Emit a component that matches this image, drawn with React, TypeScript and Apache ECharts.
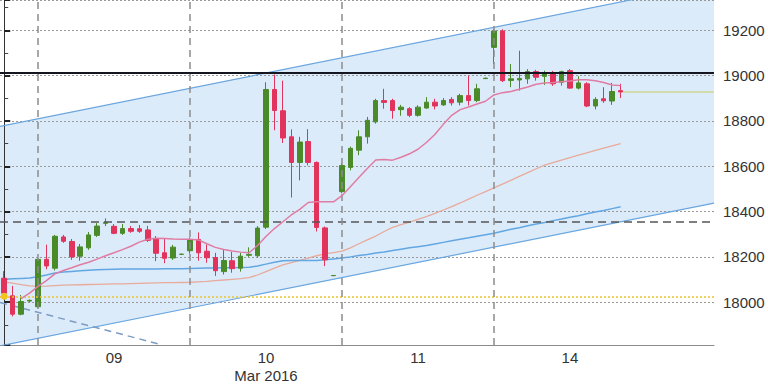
import React, { useEffect, useRef } from "react";
import * as echarts from "echarts";

// ---- x positions (candle index) ----
const dayStarts = [4, 22, 40, 58];
const dayLabelPos = [13, 31, 49, 67];
const dayLabels = ["09", "10\nMar 2016", "11", "14"];

// ---- candles ----
const candleOpen = [18106, 18028, 17947, 18005, 17980, 18189, 18150, 18288, 18268, 18203, 18240, 18295, 18348, 18335, 18304, 18325, 18324, 18319, 18279, 18218, 18195, 18211, 18227, 18277, 18225, 18197, 18135, 18183, 18150, 18207, 18205, 18331, 18939, 18845, 18730, 18617, 18709, 18617, 18328, 18117, 18488, 18595, 18671, 18730, 18796, 18890, 18890, 18850, 18854, 18825, 18857, 18883, 18871, 18895, 18883, 18912, 18890, 18987, 19125, 19197, 18979, 18981, 18986, 19018, 18997, 19012, 18971, 19022, 18945, 18964, 18866, 18898, 18888, 18934];
const candleClose = [18040, 17947, 18003, 18008, 18189, 18160, 18291, 18269, 18200, 18244, 18297, 18336, 18352, 18304, 18325, 18313, 18313, 18273, 18216, 18194, 18243, 18212, 18275, 18218, 18196, 18139, 18184, 18148, 18203, 18211, 18327, 18939, 18846, 18725, 18617, 18707, 18617, 18330, 18187, 18118, 18603, 18679, 18730, 18803, 18890, 18882, 18846, 18861, 18825, 18861, 18883, 18866, 18890, 18880, 18912, 18890, 18942, 18989, 19197, 18978, 18986, 18988, 19018, 18993, 19007, 18964, 19018, 18945, 18968, 18866, 18895, 18889, 18930, 18928];
const candleLow = [18029, 17937, 17942, 18000, 17975, 18145, 18140, 18262, 18187, 18183, 18231, 18288, 18336, 18300, 18297, 18306, 18306, 18266, 18181, 18172, 18187, 18208, 18214, 18183, 18174, 18116, 18122, 18130, 18135, 18200, 18197, 18323, 18759, 18703, 18462, 18538, 18604, 18312, 18159, 18115, 18481, 18582, 18649, 18700, 18788, 18854, 18810, 18823, 18817, 18819, 18854, 18851, 18867, 18868, 18869, 18868, 18883, 18985, 19051, 18972, 18949, 18934, 18964, 18978, 18959, 18955, 18956, 18942, 18939, 18861, 18851, 18880, 18871, 18901];
const candleHigh = [18137, 18072, 18032, 18012, 18192, 18254, 18297, 18297, 18279, 18257, 18310, 18349, 18370, 18345, 18345, 18336, 18341, 18337, 18292, 18283, 18253, 18214, 18286, 18308, 18255, 18218, 18231, 18222, 18218, 18242, 18336, 18971, 19005, 18978, 18763, 18730, 18764, 18621, 18334, 18120, 18613, 18687, 18759, 18818, 18898, 18942, 18898, 18871, 18861, 18869, 18905, 18898, 18901, 18905, 18920, 19000, 18964, 18991, 19205, 19205, 19051, 19110, 19029, 19026, 19022, 19021, 19022, 19029, 18997, 18971, 18905, 18949, 18968, 18964];

// ---- moving averages ----
const maPink = [null, null, 18016, 18040, 18070, 18095, 18125, 18140, 18152, 18165, 18176, 18190, 18205, 18218, 18232, 18247, 18265, 18278, 18282, 18281, 18279, 18278, 18278, 18275, 18258, 18242, 18233, 18226, 18221, 18218, 18250, 18290, 18325, 18355, 18385, 18410, 18440, 18443, 18443, 18443, 18470, 18510, 18550, 18590, 18628, 18630, 18627, 18640, 18655, 18675, 18705, 18740, 18785, 18825, 18850, 18862, 18875, 18887, 18915, 18925, 18930, 18940, 18950, 18962, 18968, 18970, 18973, 18976, 18982, 18982, 18978, 18970, 18959, 18956];
const maBlue = [18101, 18103, 18105, 18107, 18112, 18120, 18129, 18133, 18136, 18139, 18141, 18143, 18144, 18145, 18146, 18146, 18147, 18147, 18147, 18148, 18148, 18148, 18149, 18150, 18151, 18151, 18152, 18152, 18153, 18154, 18160, 18168, 18176, 18183, 18184, 18184, 18184, 18184, 18187, 18191, 18195, 18200, 18206, 18211, 18217, 18222, 18228, 18234, 18240, 18245, 18250, 18257, 18264, 18271, 18278, 18284, 18291, 18298, 18304, 18313, 18322, 18329, 18337, 18345, 18352, 18360, 18367, 18375, 18382, 18390, 18398, 18405, 18413, 18421];
const maSalmon = [18090, 18084, 18078, 18072, 18070, 18071, 18073, 18075, 18076, 18077, 18078, 18079, 18080, 18081, 18081, 18082, 18083, 18084, 18085, 18086, 18086, 18087, 18088, 18090, 18092, 18095, 18098, 18101, 18104, 18108, 18120, 18135, 18150, 18165, 18175, 18185, 18195, 18205, 18213, 18219, 18225, 18240, 18258, 18275, 18292, 18312, 18330, 18342, 18353, 18366, 18378, 18392, 18407, 18422, 18438, 18455, 18472, 18488, 18505, 18521, 18538, 18555, 18572, 18589, 18605, 18616, 18627, 18638, 18649, 18659, 18670, 18680, 18690, 18700];

// ---- channel & trend lines ----
const xMin = -0.5;
const xMax = 84.06;
const channelX = [xMin, xMax];
const channelUpper = [18776, 19408];
const channelLower = [17807, 18437];
const trendDownX = [xMin, 18.45];
const trendDownY = [17999, 17814];

// ---- horizontal levels ----
const levelBlack = 19013;
const levelDashed = 18353;
const levelYellow = 18026;
const lastPrice = 18930;
const lastIndex = 73.3;

const yMin = 17811;
const yMax = 19334;

const FONT = "'Liberation Sans', Arial, sans-serif";

export default function App() {
  const ref = useRef<HTMLDivElement>(null);
  useEffect(() => {
    if (!ref.current) return;
    const chart = echarts.init(ref.current, undefined, { renderer: "svg" });
    const pairs = (arr: (number | null)[]) =>
      arr.map((v, i) => (v == null ? null : [i, v])).filter((p) => p !== null);

    const option: any = {
      animation: false,
      backgroundColor: "#ffffff",
      grid: { left: 0, right: 54, top: 0, bottom: 36 },
      xAxis: {
        type: "value",
        min: xMin,
        max: xMax,
        splitLine: { show: false },
        axisTick: { show: false },
        axisLine: { show: true, lineStyle: { color: "#8a8a8a", width: 1 } },
        axisLabel: {
          customValues: dayLabelPos,
          formatter: (v: number) => {
            const k = dayLabelPos.indexOf(Math.round(v));
            return k >= 0 ? dayLabels[k] : "";
          },
          color: "#333",
          fontFamily: FONT,
          fontSize: 15,
          lineHeight: 18,
          margin: 3,
        },
      },
      yAxis: {
        type: "value",
        position: "right",
        min: yMin,
        max: yMax,
        splitNumber: 8,
        scale: true,
        axisLine: { show: true, lineStyle: { color: "#333", width: 1 } },
        axisTick: { show: true, length: 6, lineStyle: { color: "#222", width: 2 } },
        minorTick: { show: true, splitNumber: 2, length: 4, lineStyle: { color: "#444", width: 1 } },
        splitLine: { show: true, lineStyle: { color: "#9a9a9a", width: 1, type: [2, 2] } },
        axisLabel: {
          showMinLabel: false,
          showMaxLabel: false,
          formatter: (v: number) => String(Math.round(v)),
          color: "#333",
          fontFamily: FONT,
          fontSize: 15,
          margin: 9,
        },
      },
      series: [
        {
          type: "custom",
          z: -1,
          silent: true,
          data: [[channelX[0], channelLower[0]]],
          renderItem: (params: any, api: any) => {
            const pts: number[][] = [];
            for (let k = 0; k < channelX.length; k++) pts.push(api.coord([channelX[k], channelUpper[k]]));
            for (let k = channelX.length - 1; k >= 0; k--) pts.push(api.coord([channelX[k], channelLower[k]]));
            return { type: "polygon", shape: { points: pts }, style: { fill: "#dcebfa" } };
          },
        },
        {
          type: "line",
          silent: true,
          showSymbol: false,
          z: 3,
          data: channelX.map((x, k) => [x, channelUpper[k]]),
          lineStyle: { color: "#6aa6de", width: 1.2 },
        },
        {
          type: "line",
          silent: true,
          showSymbol: false,
          z: 3,
          data: channelX.map((x, k) => [x, channelLower[k]]),
          lineStyle: { color: "#6aa6de", width: 1.2 },
        },
        {
          type: "line",
          silent: true,
          showSymbol: false,
          z: 3,
          data: trendDownX.map((x, k) => [x, trendDownY[k]]),
          lineStyle: { color: "#7d9cc4", width: 1.5, type: [7, 5] },
        },
        {
          type: "line",
          silent: true,
          showSymbol: false,
          z: 3,
          data: pairs(maSalmon),
          lineStyle: { color: "#e7aa9b", width: 1.3 },
        },
        {
          type: "line",
          silent: true,
          showSymbol: false,
          z: 3,
          data: pairs(maBlue),
          lineStyle: { color: "#62a7e2", width: 1.5 },
        },
        {
          type: "candlestick",
          silent: true,
          z: 4,
          barWidth: 5,
          data: candleOpen.map((o, i) => [i, o, candleClose[i], candleLow[i], candleHigh[i]]),
          itemStyle: {
            color: "#4a8a28",
            color0: "#e2335c",
            borderColor: "#4a8a28",
            borderColor0: "#e2335c",
            borderWidth: 1,
          },
        },
        {
          type: "line",
          silent: true,
          showSymbol: false,
          z: 5,
          data: pairs(maPink),
          lineStyle: { color: "#e07ca3", width: 1.5 },
        },
        {
          type: "line",
          silent: true,
          showSymbol: false,
          z: 6,
          data: [],
          markPoint: {
            silent: true,
            symbol: "circle",
            symbolSize: 7,
            itemStyle: { color: "#f3c41a" },
            label: { show: false },
            data: [{ coord: [0, levelYellow] }],
          },
          markLine: {
            silent: true,
            symbol: "none",
            label: { show: false },
            data: [
              { yAxis: levelYellow, lineStyle: { color: "#ecc52a", width: 1.5, type: [2, 2] } },
              { yAxis: levelDashed, lineStyle: { color: "#555", width: 1.5, type: [8, 5] } },
              ...dayStarts.map((d) => ({ xAxis: d, lineStyle: { color: "#8c8c8c", width: 1.5, type: [7, 5] } })),
              { yAxis: levelBlack, lineStyle: { color: "#15151f", width: 2, type: "solid" } },
              [
                { coord: [lastIndex, lastPrice], lineStyle: { color: "#cfd68e", width: 1.5, type: "solid" } },
                { coord: [xMax, lastPrice] },
              ],
            ],
          },
        },
      ],
    };
    chart.setOption(option);
    return () => chart.dispose();
  }, []);
  return (
    <div
      ref={ref}
      style={{ position: "fixed", left: 0, top: 0, width: 768, height: 384, background: "#fff" }}
    />
  );
}
